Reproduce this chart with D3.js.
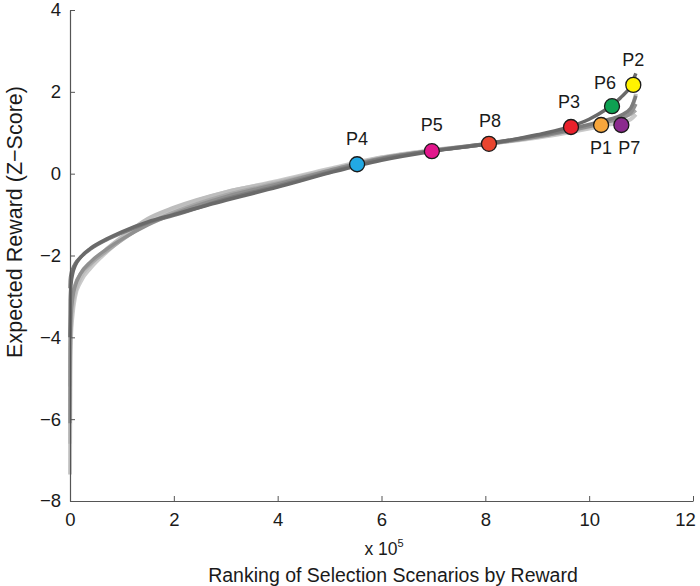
<!DOCTYPE html>
<html><head><meta charset="utf-8">
<script src="https://cdn.jsdelivr.net/npm/d3@7"></script>
<style>
body{margin:0;background:#fff}
svg{display:block}
text{font-family:"Liberation Sans",Arial,Helvetica,sans-serif;fill:#1a1a1a}
</style>
</head><body>
<svg id="c" width="700" height="586"></svg>
<script>
// ---- data (x in units of 1e5 scenarios, y = z-score) ----
const ranks   = [0, 0.005, 0.02, 0.05, 0.1, 0.2, 0.4, 0.7, 1, 1.5, 2, 3, 4, 5, 6, 7, 8, 9, 9.5, 10, 10.3, 10.6, 10.8, 10.9];
const curveLight1 = [-7.35, -5.0, -4.0, -3.45, -3.0, -2.65, -2.3, -1.92, -1.6, -1.15, -0.86, -0.45, -0.18, 0.12, 0.4, 0.58, 0.72, 0.88, 0.98, 1.1, 1.18, 1.25, 1.33, 1.45];
const curveLight2 = [-6.6, -4.6, -3.75, -3.25, -2.9, -2.55, -2.22, -1.85, -1.55, -1.1, -0.83, -0.45, -0.2, 0.1, 0.39, 0.57, 0.72, 0.9, 1.01, 1.14, 1.25, 1.38, 1.55, 1.95];
const curveMid1   = [-6.1, -4.3, -3.5, -3.05, -2.75, -2.45, -2.15, -1.85, -1.6, -1.25, -0.98, -0.56, -0.25, 0.08, 0.38, 0.56, 0.72, 0.9, 1.02, 1.15, 1.25, 1.35, 1.48, 1.7];
const curveMid2   = [-5.2, -3.9, -3.3, -2.95, -2.7, -2.45, -2.2, -1.9, -1.62, -1.22, -0.94, -0.52, -0.23, 0.08, 0.37, 0.56, 0.72, 0.91, 1.03, 1.17, 1.27, 1.37, 1.45, 1.55];
const curveDark2  = [-2.8, -2.6, -2.45, -2.33, -2.2, -2.05, -1.84, -1.62, -1.45, -1.2, -1.02, -0.62, -0.3, 0.04, 0.36, 0.57, 0.73, 0.93, 1.05, 1.2, 1.3, 1.42, 1.6, 1.9];
const curveDark1  = [-4.0, -3.1, -2.7, -2.45, -2.25, -2.05, -1.82, -1.6, -1.42, -1.18, -1.0, -0.65, -0.33, 0.02, 0.33, 0.55, 0.72, 0.95, 1.1, 1.33, 1.55, 1.85, 2.15, 2.45];

const pointNames = ["P4", "P5", "P8", "P3", "P1", "P7", "P6", "P2"];
const pointRank  = [5.53, 6.97, 8.07, 9.65, 10.23, 10.62, 10.44, 10.85];
const pointZ     = [0.23, 0.55, 0.73, 1.14, 1.19, 1.19, 1.65, 2.17];

const xTicks = [0, 2, 4, 6, 8, 10, 12];
const yTicks = [4, 2, 0, -2, -4, -6, -8];

// ---- styles / layout ----
const curves = [
  {v: curveLight1, color: "#cacaca", w: 4},
  {v: curveLight2, color: "#bdbdbd", w: 4},
  {v: curveMid2,   color: "#a8a8a8", w: 3.5},
  {v: curveMid1,   color: "#909090", w: 3.5},
  {v: curveDark2,  color: "#7c7c7c", w: 3.5},
  {v: curveDark1,  color: "#6a6a6a", w: 3.5}
];
const pointColor = {P1:"#f7a63c", P2:"#fff200", P3:"#e9212b", P4:"#22a9e4", P5:"#e2168c", P6:"#0ea152", P7:"#8b2a8e", P8:"#e8452f"};
const labelOff = {P4:[0,-26], P5:[0,-26], P8:[1,-23], P3:[-2,-25], P1:[0,23], P7:[8,23], P6:[-7,-23], P2:[0,-25]};

const svg = d3.select("#c");
const x = d3.scaleLinear().domain([0, 12]).range([70, 693]);
const y = d3.scaleLinear().domain([-8, 4]).range([501, 10]);

// curves
const line = d3.line().x((d, i) => x(ranks[i])).y(d => y(d)).curve(d3.curveMonotoneX);
svg.append("g").selectAll("path").data(curves).join("path")
  .attr("d", c => line(c.v))
  .attr("fill", "none")
  .attr("stroke", c => c.color)
  .attr("stroke-width", c => c.w)
  .attr("stroke-linecap", "butt");

// axes
const axCol = "#555";
const xAxis = svg.append("g").attr("transform", `translate(0,${y(-8)})`)
  .call(d3.axisBottom(x).tickValues(xTicks).tickSizeInner(-5).tickSizeOuter(0).tickPadding(10));
const yAxis = svg.append("g").attr("transform", `translate(${x(0)},0)`)
  .call(d3.axisLeft(y).tickValues(yTicks).tickSizeInner(-5).tickSizeOuter(0).tickPadding(10)
    .tickFormat(d => d < 0 ? "\u2212" + Math.abs(d) : String(d)));
[xAxis, yAxis].forEach(g => {
  g.select(".domain").attr("stroke", axCol).attr("stroke-width", 1.2);
  g.selectAll(".tick line").attr("stroke", axCol).attr("stroke-width", 1);
  g.selectAll(".tick text").attr("font-size", 18.5).attr("fill", "#1a1a1a")
    .style("font-family", '"Liberation Sans",Arial,sans-serif');
});
yAxis.selectAll(".tick text").attr("x", -9);
xAxis.selectAll(".tick text").attr("y", 12);
xAxis.selectAll(".tick").filter(d => d === 12).select("text").attr("dx", -8);

// points
const pts = pointNames.map((n, i) => ({n, r: pointRank[i], z: pointZ[i]}));
svg.append("g").selectAll("circle").data(pts).join("circle")
  .attr("cx", d => x(d.r)).attr("cy", d => y(d.z)).attr("r", 7.5)
  .attr("fill", d => pointColor[d.n]).attr("stroke", "#1a1a1a").attr("stroke-width", 1.3);
svg.append("g").selectAll("text").data(pts).join("text")
  .attr("x", d => x(d.r) + labelOff[d.n][0])
  .attr("y", d => y(d.z) + labelOff[d.n][1])
  .attr("dy", "0.35em")
  .attr("text-anchor", "middle").attr("font-size", 18)
  .text(d => d.n);

// axis titles
const xt = svg.append("text").attr("x", 384).attr("y", 555).attr("text-anchor", "middle").attr("font-size", 17.5);
xt.append("tspan").text("x 10");
xt.append("tspan").attr("font-size", 11).attr("dy", -8).text("5");
svg.append("text").attr("x", 393).attr("y", 582).attr("text-anchor", "middle").attr("font-size", 19.5)
  .text("Ranking of Selection Scenarios by Reward");
svg.append("text").attr("transform", "translate(22,222) rotate(-90)").attr("text-anchor", "middle").attr("font-size", 21.5)
  .text("Expected Reward (Z\u2212Score)");
</script>
</body></html>
